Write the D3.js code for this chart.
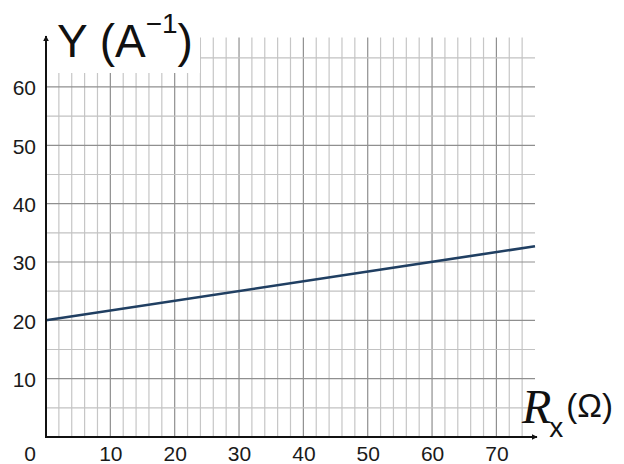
<!DOCTYPE html>
<html>
<head>
<meta charset="utf-8">
<script src="https://cdn.jsdelivr.net/npm/d3@7"></script>
<style>
  body { margin: 0; background: #fff; }
  svg { display: block; }
  .tick text { font-family: "Liberation Sans", Arial, sans-serif; font-size: 21px; fill: #1a1a1a; }
</style>
</head>
<body>
<svg id="chart" width="624" height="464"></svg>
<script>
const WIDTH = 624, HEIGHT = 464;

// data
const rxValues = [0, 76];
const yValues = [20, 32.7];
const xTickValues = [10, 20, 30, 40, 50, 60, 70];
const yTickValues = [10, 20, 30, 40, 50, 60];

const x = d3.scaleLinear().domain([0, 76]).range([46, 535]);
const y = d3.scaleLinear().domain([0, 68]).range([437, 40.3]);

const svg = d3.select("#chart");

// grid, minor every 2 on x / 5 on y, majors every 10
const xGrid = d3.range(2, 75, 2);
const yGrid = d3.range(5, 66, 5);

svg.append("g")
  .selectAll("line")
  .data(xGrid)
  .join("line")
  .attr("x1", d => x(d)).attr("x2", d => x(d))
  .attr("y1", y(0)).attr("y2", y(68.5))
  .attr("stroke", d => d % 10 === 0 ? "#8f8f8f" : "#c6c6c6")
  .attr("stroke-width", 1.2);

svg.append("g")
  .selectAll("line")
  .data(yGrid)
  .join("line")
  .attr("x1", x(0)).attr("x2", x(76))
  .attr("y1", d => y(d)).attr("y2", d => y(d))
  .attr("stroke", d => d % 10 === 0 ? "#8f8f8f" : "#c2c2c2")
  .attr("stroke-width", 1.2);

// white box behind the y title
svg.append("rect")
  .attr("x", x(0) + 1).attr("y", 0)
  .attr("width", 153).attr("height", 73)
  .attr("fill", "#fff");

// data line
const line = d3.line()
  .x(d => x(d[0]))
  .y(d => y(d[1]));

svg.append("path")
  .datum(d3.zip(rxValues, yValues))
  .attr("d", line)
  .attr("fill", "none")
  .attr("stroke", "#203f62")
  .attr("stroke-width", 2.6);

// axes with arrows
svg.append("defs").append("marker")
  .attr("id", "arrow")
  .attr("viewBox", "0 0 10 10")
  .attr("refX", 9).attr("refY", 5)
  .attr("markerWidth", 6).attr("markerHeight", 6)
  .attr("markerUnits", "userSpaceOnUse")
  .attr("orient", "auto")
  .append("path")
  .attr("d", "M0,0 L10,5 L0,10 Z")
  .attr("fill", "#111");

svg.append("line")
  .attr("x1", x(0)).attr("x2", x(0))
  .attr("y1", y(0) + 1).attr("y2", 36)
  .attr("stroke", "#111").attr("stroke-width", 2)
  .attr("marker-end", "url(#arrow)");

svg.append("line")
  .attr("x1", x(0) - 1).attr("x2", 537)
  .attr("y1", y(0)).attr("y2", y(0))
  .attr("stroke", "#111").attr("stroke-width", 2)
  .attr("marker-end", "url(#arrow)");

// tick labels
const yAxis = d3.axisLeft(y).tickValues(yTickValues).tickSize(0).tickPadding(10);
svg.append("g")
  .attr("transform", `translate(${x(0)},0)`)
  .call(yAxis)
  .call(g => g.select(".domain").remove())
  .selectAll("text").attr("dy", "0.38em");

const xAxis = d3.axisBottom(x).tickValues(xTickValues).tickSize(0).tickPadding(9);
svg.append("g")
  .attr("transform", `translate(0,${y(0)})`)
  .call(xAxis)
  .call(g => g.select(".domain").remove());

svg.append("text")
  .attr("x", 30).attr("y", 461)
  .attr("text-anchor", "middle")
  .attr("font-family", "Liberation Sans, Arial, sans-serif")
  .attr("font-size", 21).attr("fill", "#1a1a1a")
  .text("0");

// axis titles
const yTitle = svg.append("text")
  .attr("x", 57).attr("y", 57)
  .attr("font-family", "Liberation Sans, Arial, sans-serif")
  .attr("font-size", 46).attr("fill", "#111");
yTitle.append("tspan").text("Y (A");
yTitle.append("tspan").attr("font-size", 28).attr("dy", -24).text("\u22121");
yTitle.append("tspan").attr("dy", 24).text(")");

const xTitle = svg.append("text")
  .attr("x", 522).attr("y", 423)
  .attr("font-family", "Liberation Sans, Arial, sans-serif")
  .attr("fill", "#111");
xTitle.append("tspan")
  .attr("font-family", "Liberation Serif, serif")
  .attr("font-style", "italic")
  .attr("font-size", 48)
  .text("R");
xTitle.append("tspan").attr("font-size", 28).attr("dy", 14).attr("dx", -2).text("x");
xTitle.append("tspan").attr("font-size", 33).attr("dy", -20).attr("dx", 3).text("(\u03a9)");
</script>
</body>
</html>
